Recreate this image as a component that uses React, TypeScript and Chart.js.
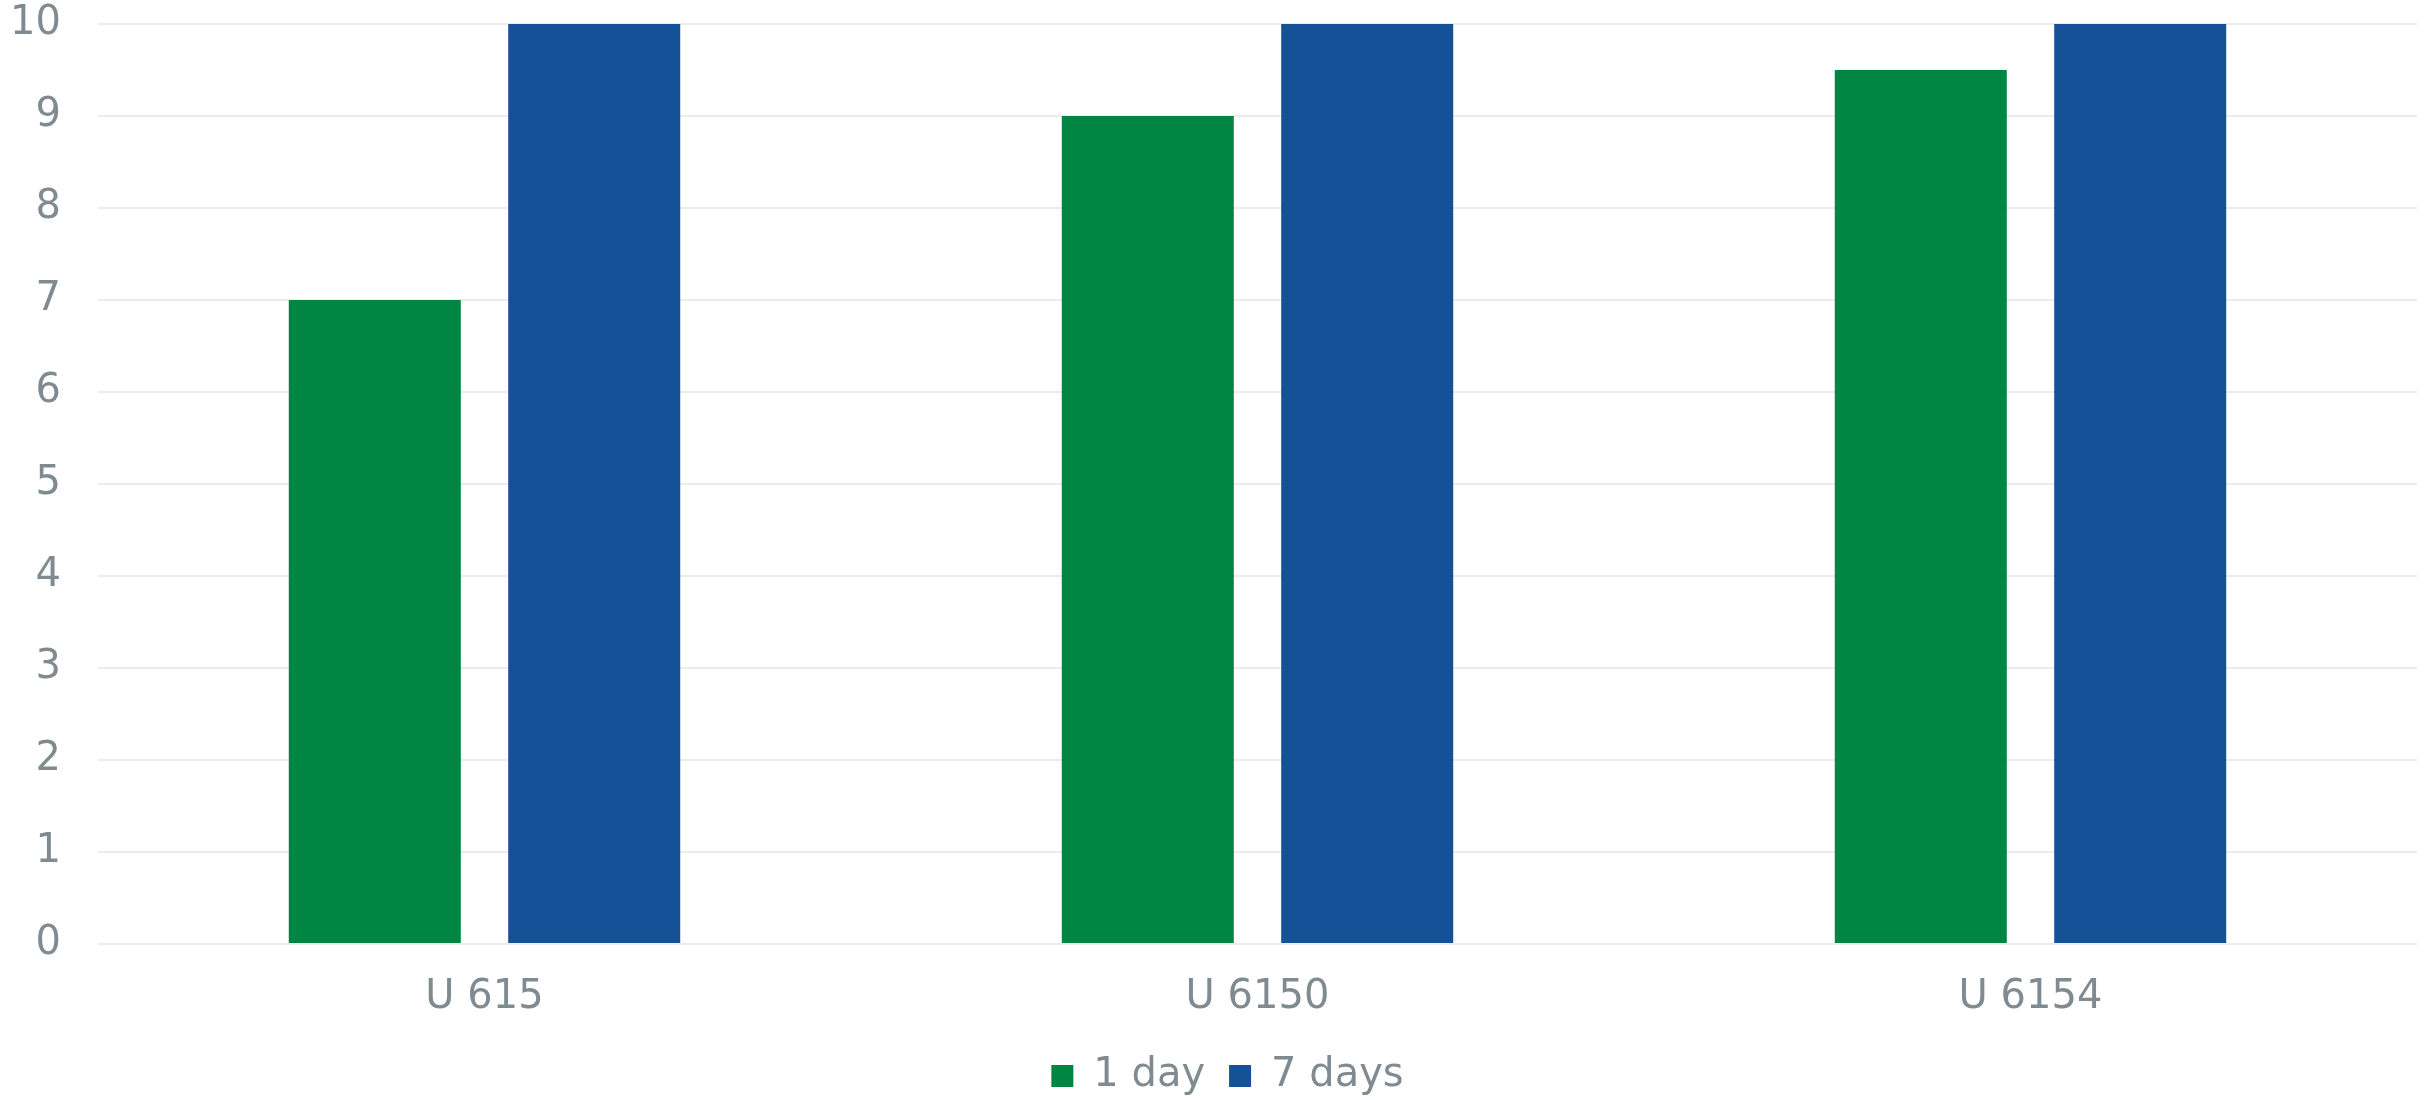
import React, { useEffect, useRef } from "react";
import { Chart, registerables } from "chart.js";

Chart.register(...registerables);

const categories = ["U 615", "U 6150", "U 6154"];
const oneDay = [7, 9, 9.5];
const sevenDays = [10, 10, 10];
const seriesLabels = ["1 day", "7 days"];
const yTicksMin = 0;
const yTicksMax = 10;
const yStep = 1;

const GREEN = "#008542";
const BLUE = "#155196";
const TEXT = "#808b91";
const FONT = "'DejaVu Sans', Verdana, sans-serif";

// nudges the legend block horizontally after layout
const legendShift = {
  id: "legendShift",
  afterLayout(chart: any) {
    const lg = chart.legend;
    if (lg) {
      lg.left += 17;
      lg.right += 17;
    }
  },
};

export default function App() {
  const ref = useRef<HTMLCanvasElement | null>(null);

  useEffect(() => {
    document.body.style.margin = "0";
    const canvas = ref.current;
    if (!canvas) return;
    const chart = new Chart(canvas, {
      type: "bar",
      data: {
        labels: categories,
        datasets: [
          {
            label: seriesLabels[0],
            data: oneDay,
            backgroundColor: GREEN,
            categoryPercentage: 0.5677,
            barPercentage: 0.784,
          },
          {
            label: seriesLabels[1],
            data: sevenDays,
            backgroundColor: BLUE,
            categoryPercentage: 0.5677,
            barPercentage: 0.784,
          },
        ],
      },
      options: {
        animation: false,
        responsive: false,
        maintainAspectRatio: false,
        layout: { padding: { left: 4, right: 16, top: 0, bottom: 0 } },
        plugins: {
          tooltip: { enabled: false },
          legend: {
            position: "bottom",
            labels: {
              boxWidth: 22,
              boxHeight: 22,
              padding: 24,
              color: TEXT,
              font: { family: FONT, size: 40 },
            },
          },
        },
        scales: {
          x: {
            grid: { display: false, drawTicks: false },
            border: { display: false },
            ticks: { color: TEXT, font: { family: FONT, size: 40 }, padding: 30 },
            afterFit: (scale: any) => {
              scale.height = 88;
            },
          },
          y: {
            min: yTicksMin,
            max: yTicksMax,
            grid: { color: "#ececec", lineWidth: 2, drawTicks: false },
            border: { display: false },
            ticks: {
              stepSize: yStep,
              color: TEXT,
              font: { family: FONT, size: 40 },
              padding: 37,
            },
            afterFit: (scale: any) => {
              scale.width = 94;
              scale.paddingTop = 24;
              scale.paddingBottom = 0;
            },
          },
        },
      },
      plugins: [legendShift],
    });
    return () => chart.destroy();
  }, []);

  return (
    <div style={{ position: "fixed", left: 0, top: 0, width: 2433, height: 1100, overflow: "hidden" }}>
      <canvas ref={ref} width={2433} height={1106} style={{ display: "block" }} />
    </div>
  );
}
